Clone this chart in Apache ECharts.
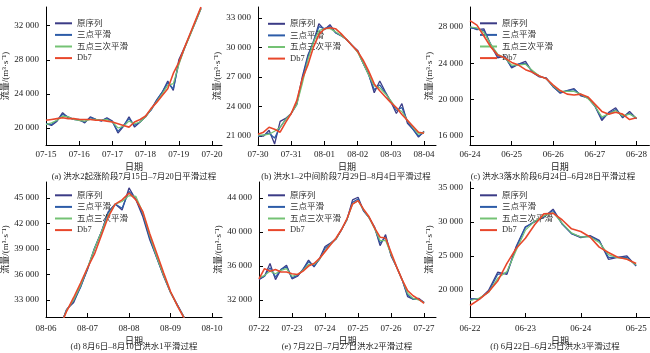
<!DOCTYPE html>
<html><head><meta charset="utf-8">
<script src="https://cdn.jsdelivr.net/npm/echarts@6/dist/echarts.min.js"></script>
<style>html,body{margin:0;padding:0;background:#fff}#c{width:650px;height:353px}</style>
</head><body><div id="c"></div><script>
// ---- data ----
const seriesNames = ['原序列', '三点平滑', '五点三次平滑', 'Db7'];
const stepPerDay = 6; // samples every 4 hours

// (a)
const xLabelsA = ['07-15','07-16','07-17','07-18','07-19','07-20'];
const yTicksA = [20000, 24000, 28000, 32000];
const origA = [20500,20300,20800,21800,21200,21000,21000,20600,21300,21000,20800,21200,20800,19400,20200,21300,20100,20700,21300,22200,23300,24200,25500,24400,28000,29400,30900,32500,34100];
const triA  = [20500,20400,20900,21600,21300,21000,20900,20700,21200,21000,20900,21100,20700,19600,20300,21100,20300,20700,21400,22100,23200,24200,25300,24600,27600,29300,30900,32400,34000];
const fiveA = [20400,20600,20900,21400,21300,21000,20900,20800,21000,21000,20900,21000,20700,20000,20200,20800,20500,20700,21300,22200,23100,24000,25000,25200,27400,29300,30800,32400,34000];
const db7A  = [20900,21000,21100,21200,21100,21100,21000,21000,21000,20900,20900,20800,20700,20500,20300,20100,20700,21000,21400,22300,23000,23800,24600,26400,27700,29400,31000,32600,34200];

// (b)
const xLabelsB = ['07-30','07-31','08-01','08-02','08-03','08-04'];
const yTicksB = [21000, 24000, 27000, 30000, 33000];
const origB = [21000,21000,21600,20200,22500,22800,23300,24300,27000,29200,30500,32400,31800,32300,31500,31200,30800,30200,29700,28400,27300,25400,26600,25500,24500,23300,24300,22300,21700,20900,21500];
const triB  = [21000,21100,21300,20800,21900,22700,23300,24200,26800,29000,30600,32100,31900,32100,31500,31200,30800,30200,29600,28400,27200,25700,26200,25400,24500,23600,23900,22500,21700,21000,21400];
const fiveB = [21100,21100,21200,21500,21900,22700,23300,24200,26300,28700,30500,31700,31900,31900,31600,31200,30800,30200,29500,28400,27200,26100,25900,25300,24600,23800,23500,22600,21900,21200,21400];
const db7B  = [21200,21400,21900,21700,21400,22400,23300,24600,26800,28200,30000,31300,31900,32000,31900,31400,30800,30200,29600,28700,27600,26300,25600,25000,24400,23900,23200,22600,22000,21400,21300];

// (c)
const xLabelsC = ['06-24','06-25','06-26','06-27','06-28'];
const yTicksC = [16000, 20000, 24000, 28000];
const origC = [28000,27700,27800,26000,24600,24800,23500,23900,24200,23000,22500,22400,21400,20700,21000,21200,20400,20200,19300,17700,18600,19100,18000,18700,17900];
const triC  = [27900,27800,27600,26100,24800,24700,23600,23900,24000,23100,22600,22300,21400,20800,21000,21100,20500,20200,19300,17900,18500,18900,18100,18500,17900];
const fiveC = [28000,27900,27400,26100,25000,24600,23800,23800,23900,23200,22600,22300,21500,20900,20900,20900,20600,20100,19300,18100,18400,18800,18200,18400,18000];
const db7C  = [28700,28200,27000,25800,24900,24600,24100,23800,23300,23000,22600,22300,21600,21000,20600,20500,20600,20300,19500,18700,18400,18600,18400,17800,18000];

// (d)
const xLabelsD = ['08-06','08-07','08-08','08-09','08-10'];
const yTicksD = [33000, 36000, 39000, 42000, 45000];
const origD = [null,null,29800,31900,32700,34600,36600,39000,41000,43400,44300,43600,46200,44800,42800,40100,38000,35800,33900,32400,30900];
const triD  = [null,null,29800,31900,32900,34500,36700,39100,41000,43300,44300,43800,45800,44900,43100,40300,38000,35900,33900,32400,30900];
const fiveD = [null,null,29800,31800,33000,34700,36800,39000,41000,43000,44300,44600,45300,45200,43300,40600,38100,35900,33900,32300,30900];
const db7D  = [null,null,29800,31700,33300,35000,36800,38400,40600,42800,44300,44800,45600,44800,43400,40800,38500,36200,34000,32300,30800];

// (e)
const xLabelsE = ['07-22','07-23','07-24','07-25','07-26','07-27'];
const yTicksE = [32000, 36000, 40000, 44000];
const origE = [34400,34800,36300,34400,35600,36100,34500,34800,35600,36700,35900,36900,38300,38700,39200,40300,41500,43800,44100,42500,41700,40600,38400,39700,37200,35900,34400,32400,32100,32200,31700];
const triE  = [34500,34800,35800,34700,35600,35900,34600,34900,35600,36500,36000,36800,38100,38600,39200,40300,41500,43500,43900,42500,41700,40500,38700,39400,37300,35900,34400,32600,32100,32100,31700];
const fiveE = [34600,34900,35400,35100,35500,35700,34800,35000,35500,36200,36200,36800,37800,38600,39200,40300,41500,43300,43700,42600,41700,40400,39000,39000,37400,35900,34400,32800,32200,32000,31700];
const db7E  = [34500,35700,35400,35600,35300,35300,35100,35000,35400,36000,36300,36900,37700,38500,39300,40300,41600,43300,43700,42700,41800,40500,39400,39300,37600,35900,34400,33100,32500,32100,31600];

// (f)
const xLabelsF = ['06-22','06-23','06-24','06-25'];
const yTicksF = [20000, 25000, 30000, 35000];
const origF = [18700,18600,19900,22600,22300,26400,29300,30000,30700,31900,29700,28300,27700,28000,27300,24500,24800,25000,23500];
const triF  = [18600,18700,19700,22300,22500,26200,29200,30100,30800,31700,29700,28300,27800,27900,27200,24800,24800,24800,23600];
const fiveF = [18400,18800,19600,21700,22700,25800,28800,30100,30900,31400,29800,28400,27800,27800,27000,25200,24700,24600,23700];
const db7F  = [17700,18600,19700,21300,23900,26100,27600,29600,31200,31300,30300,29000,28600,27800,26300,25500,24800,24500,23900];

const captions = [
  '(a) 洪水2起涨阶段7月15日–7月20日平滑过程',
  '(b) 洪水1–2中间阶段7月29日–8月4日平滑过程',
  '(c) 洪水3落水阶段6月24日–6月28日平滑过程',
  '(d) 8月6日–8月10日洪水1平滑过程',
  '(e) 7月22日–7月27日洪水2平滑过程',
  '(f) 6月22日–6月25日洪水3平滑过程'
];

// ---- layout / style ----
const colors = ['#3b3b86', '#2d5ca8', '#74c274', '#e8472b'];
const widths = [1.3, 1.3, 1.2, 1.6];
const FONT = "'Liberation Serif', 'Noto Sans CJK SC', serif";

const panels = [
  {labels:xLabelsA, ticks:yTicksA, data:[origA,triA,fiveA,db7A], yMin:18000, yMax:34200,
   left:46, top:7, width:176, height:138, xMax:5.30, lgL:55, lgT:17.5, capX:134, capY:177, lblM:5, nameGap:13},
  {labels:xLabelsB, ticks:yTicksB, data:[origB,triB,fiveB,db7B], yMin:20100, yMax:34100,
   left:258, top:7, width:178, height:138, xMax:5.36, lgL:268, lgT:18, capX:346, capY:177, lblM:5, nameGap:13},
  {labels:xLabelsC, ticks:yTicksC, data:[origC,triC,fiveC,db7C], yMin:15000, yMax:30200,
   left:470, top:7, width:180, height:138, xMax:4.31, lgL:480, lgT:17.5, capX:553, capY:177, lblM:5, nameGap:13},
  {labels:xLabelsD, ticks:yTicksD, data:[origD,triD,fiveD,db7D], yMin:31000, yMax:46900,
   left:46, top:182, width:176, height:135, xMax:4.24, lgL:55, lgT:189.5, capX:134, capY:347, lblM:7, nameGap:13},
  {labels:xLabelsE, ticks:yTicksE, data:[origE,triE,fiveE,db7E], yMin:30000, yMax:45900,
   left:259, top:182, width:177, height:135, xMax:5.36, lgL:268, lgT:189.5, capX:347, capY:347, lblM:7, nameGap:13},
  {labels:xLabelsF, ticks:yTicksF, data:[origF,triF,fiveF,db7F], yMin:16000, yMax:35900,
   left:470, top:182, width:180, height:135, xMax:3.25, lgL:480, lgT:189.5, capX:555, capY:347, lblM:7, nameGap:13}
];

const fmtNum = v => String(Math.round(v)).replace(/\B(?=(\d{3})+(?!\d))/g, ' ');

const grid = [], xAxis = [], yAxis = [], series = [], legend = [], graphic = [];
panels.forEach((p, k) => {
  grid.push({left:p.left, top:p.top, width:p.width, height:p.height});
  const xt = p.labels.map((_, i) => i);
  xAxis.push({
    type:'value', gridIndex:k, min:0, max:p.xMax,
    name:'日期', nameLocation:'middle', nameGap:p.nameGap + p.lblM,
    nameTextStyle:{fontSize:9, fontFamily:FONT, color:'#222'},
    axisLine:{show:true, onZero:false, lineStyle:{color:'#000', width:1}},
    axisTick:{show:true, inside:true, length:4, customValues:xt, lineStyle:{color:'#000'}},
    axisLabel:{customValues:xt, margin:p.lblM, fontSize:9, fontFamily:FONT, color:'#222',
      formatter: v => p.labels[Math.round(v)] || ''},
    splitLine:{show:false}
  });
  yAxis.push({
    type:'value', gridIndex:k, min:p.yMin, max:p.yMax,
    name:'流量/(m³·s⁻¹)', nameLocation:'middle', nameGap:29, nameRotate:90,
    nameTextStyle:{fontSize:9, fontFamily:FONT, color:'#222'},
    axisLine:{show:true, onZero:false, lineStyle:{color:'#000', width:1}},
    axisTick:{show:true, inside:true, length:4, customValues:p.ticks, lineStyle:{color:'#000'}},
    axisLabel:{customValues:p.ticks, margin:7, fontSize:9, fontFamily:FONT, color:'#222', formatter:fmtNum},
    splitLine:{show:false}
  });
  p.data.forEach((arr, s) => {
    series.push({
      type:'line', name:seriesNames[s], xAxisIndex:k, yAxisIndex:k,
      data: arr.map((v, i) => [i / stepPerDay, v]),
      symbol:'none', showSymbol:false, connectNulls:false, clip:true,
      lineStyle:{color:colors[s], width:widths[s]}, itemStyle:{color:colors[s]},
      z: 2 + s, animation:false
    });
  });
  legend.push({
    data:seriesNames, orient:'vertical', left:p.lgL, top:p.lgT, padding:0, itemGap:0,
    icon:'rect', itemWidth:17, itemHeight:2, selectedMode:false,
    textStyle:{fontSize:8.5, lineHeight:11.6, fontFamily:FONT, color:'#333'}
  });
  graphic.push({
    type:'text', x:p.capX, y:p.capY,
    style:{text:captions[k], fill:'#222', font:"8.5px 'Liberation Serif', 'Noto Sans CJK SC', serif",
      textAlign:'center', textVerticalAlign:'middle'}
  });
});

const chart = echarts.init(document.getElementById('c'), null, {renderer:'canvas'});
chart.setOption({
  animation:false, backgroundColor:'#fff',
  color:colors, grid, xAxis, yAxis, series, legend, graphic
});
</script></body></html>
